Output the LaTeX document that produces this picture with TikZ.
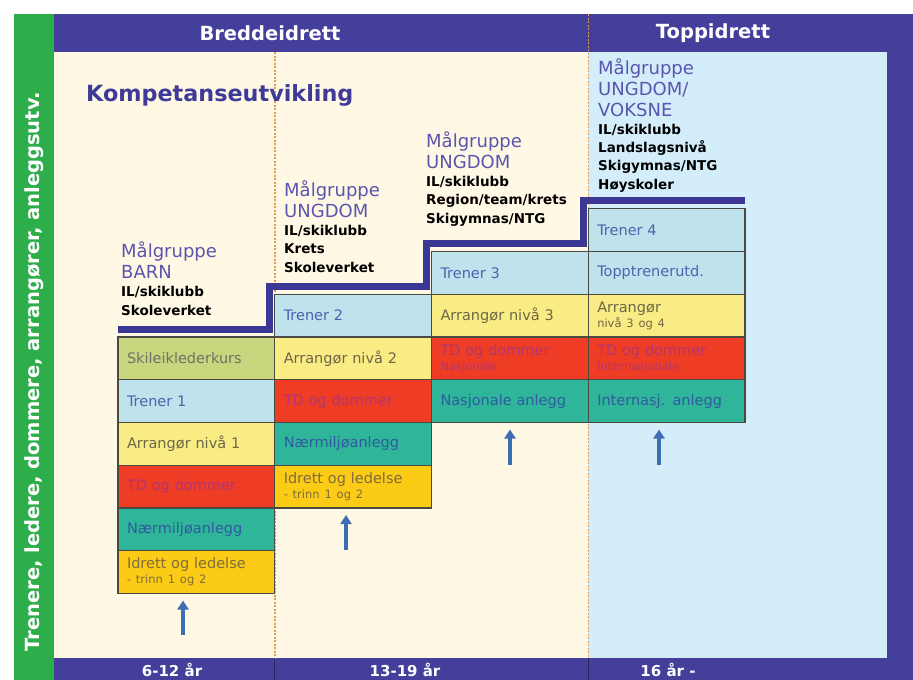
\documentclass[tikz,border=0pt]{standalone}
\usepackage{fontspec}
\setmainfont{DejaVu Sans}
\usetikzlibrary{positioning,arrows.meta}
\definecolor{ramme}{HTML}{433F9B}
\definecolor{gronn}{HTML}{2EAE4B}
\definecolor{krem}{HTML}{FFF8E5}
\definecolor{lysbla}{HTML}{D3EEFA}
\definecolor{trapp}{HTML}{3B3895}
\definecolor{tittel}{HTML}{3D3A98}
\definecolor{malfarge}{HTML}{5A55AE}
\definecolor{kant}{HTML}{4A4A42}
\definecolor{skifyll}{HTML}{C8D67D}
\definecolor{skitekst}{HTML}{6C7368}
\definecolor{trenfyll}{HTML}{BEE3EC}
\definecolor{trentekst}{HTML}{4B63AD}
\definecolor{arrfyll}{HTML}{F9EC85}
\definecolor{arrtekst}{HTML}{6E6748}
\definecolor{tdfyll}{HTML}{EE3C25}
\definecolor{tdtekst}{HTML}{B2366F}
\definecolor{anlfyll}{HTML}{2FB59A}
\definecolor{anltekst}{HTML}{2F5B9F}
\definecolor{idrfyll}{HTML}{FBCB15}
\definecolor{idrtekst}{HTML}{7E6C3C}
\definecolor{pilfarge}{HTML}{3E6DB4}
\definecolor{skille}{HTML}{E39A4C}
\newcommand{\smaatekst}{\fontsize{11.5}{12}\selectfont}
\begin{document}
\begin{tikzpicture}[x=1pt,y=-1pt,
  kurs/.style={draw=kant,line width=1.1pt,outer sep=0pt,anchor=north west,inner xsep=9pt,inner ysep=0pt,
    minimum height=42.75pt,text width=138.75pt,align=left,font=\fontsize{14.5}{15}\selectfont},
  ski/.style={kurs,fill=skifyll,text=skitekst},
  tren/.style={kurs,fill=trenfyll,text=trentekst},
  arr/.style={kurs,fill=arrfyll,text=arrtekst},
  td/.style={kurs,fill=tdfyll,text=tdtekst},
  anl/.style={kurs,fill=anlfyll,text=anltekst},
  idr/.style={kurs,fill=idrfyll,text=idrtekst},
  mal/.style={anchor=base west,inner sep=0pt,align=left,text=malfarge,font=\fontsize{18}{20.7}\selectfont},
  liste/.style={anchor=base west,inner sep=0pt,align=left,text=black,font=\bfseries\fontsize{13.5}{18.3}\selectfont},
  hvit/.style={inner sep=0pt,text=white,font=\bfseries\fontsize{#1}{#1}\selectfont},
  pil/.style={draw=pilfarge,line width=3.5pt,-{Triangle[width=11pt,length=9pt]},shorten >=7pt}]
\useasboundingbox (0,0) rectangle (913,680);
\fill[white] (0,0) rectangle (913,680);
\fill[ramme] (54,14) rectangle (913,680);
\fill[gronn] (14,14) rectangle (54,680);
\fill[krem] (54,52) rectangle (588.25,658);
\fill[lysbla] (588.25,52) rectangle (887,658);
\draw[skille,line width=1.5pt,dash pattern=on 2pt off 1.5pt] (274.75,52) -- (274.75,658) (588.25,14) -- (588.25,658);
\draw[ramme!60!black,line width=1pt] (274.75,658) -- (274.75,680) (588.25,658) -- (588.25,680);

\node[hvit=19.5] (bredde) at (270,33) {Breddeidrett};
\node[hvit=19.5] (topp) at (713,33) {Toppidrett};
\node[hvit=19.5,rotate=90] (gronntekst) at (34,372) {Trenere, ledere, dommere, arrangører, anleggsutv.};
\node[hvit=15] (alder1) at (172,670) {6-12 år};
\node[hvit=15] (alder2) at (405,670) {13-19 år};
\node[hvit=15] (alder3) at (668,670) {16 år -};
\node[anchor=base west,inner sep=0pt,text=tittel,font=\bfseries\fontsize{22.3}{22.3}\selectfont] (kompetanse) at (86,101) {Kompetanseutvikling};

\node[mal] (mal1) at (121,278) {Målgruppe\\BARN};
\node[liste] (liste1) at (121,315) {IL/skiklubb\\Skoleverket};
\node[mal] (mal2) at (284,217) {Målgruppe\\UNGDOM};
\node[liste] (liste2) at (284,272) {IL/skiklubb\\Krets\\Skoleverket};
\node[mal] (mal3) at (426,168) {Målgruppe\\UNGDOM};
\node[liste] (liste3) at (426,223) {IL/skiklubb\\Region/team/krets\\Skigymnas/NTG};
\node[mal] (mal4) at (598,116) {Målgruppe\\UNGDOM/\\VOKSNE};
\node[liste] (liste4) at (598,189) {IL/skiklubb\\Landslagsnivå\\Skigymnas/NTG\\Høyskoler};

\draw[trapp,line width=7pt] (118,329) -- (269.75,329) -- (269.75,286.25) -- (426.5,286.25)
  -- (426.5,243.5) -- (583.25,243.5) -- (583.25,200.75) -- (745,200.75);

\node[ski] (ski1) at (118,337) {Skileiklederkurs};
\node[tren,below=0pt of ski1] (tren1) {Trener 1};
\node[arr,below=0pt of tren1] (arr1) {Arrangør nivå 1};
\node[td,below=0pt of arr1] (td1) {TD og dommer};
\node[anl,below=0pt of td1] (anl1) {Nærmiljøanlegg};
\node[idr,below=0pt of anl1] (idr1) {Idrett og ledelse\\{\smaatekst - trinn 1 og 2}};

\node[tren] (tren2) at (274.75,294.25) {Trener 2};
\node[arr,below=0pt of tren2] (arr2) {Arrangør nivå 2};
\node[td,below=0pt of arr2] (td2) {TD og dommer};
\node[anl,below=0pt of td2] (anl2) {Nærmiljøanlegg};
\node[idr,below=0pt of anl2] (idr2) {Idrett og ledelse\\{\smaatekst - trinn 1 og 2}};

\node[tren] (tren3) at (431.5,251.5) {Trener 3};
\node[arr,below=0pt of tren3] (arr3) {Arrangør nivå 3};
\node[td,below=0pt of arr3] (td3) {TD og dommer\\{\smaatekst Nasjonale}};
\node[anl,below=0pt of td3] (anl3) {Nasjonale anlegg};

\node[tren] (tren4) at (588.25,208.75) {Trener 4};
\node[tren,below=0pt of tren4] (topptr) {Topptrenerutd.};
\node[arr,below=0pt of topptr] (arr4) {Arrangør\\{\smaatekst nivå 3 og 4}};
\node[td,below=0pt of arr4] (td4) {TD og dommer\\{\smaatekst Internasjonale}};
\node[anl,below=0pt of td4] (anl4) {Internasj. anlegg};

\coordinate (fot1) at (183,635);
\coordinate (fot2) at (346,550);
\coordinate (fot3) at (510,465);
\coordinate (fot4) at (659,465);
\draw[pil] (fot1) -- (fot1 |- idr1.south);
\draw[pil] (fot2) -- (fot2 |- idr2.south);
\draw[pil] (fot3) -- (fot3 |- anl3.south);
\draw[pil] (fot4) -- (fot4 |- anl4.south);
\end{tikzpicture}
\end{document}
